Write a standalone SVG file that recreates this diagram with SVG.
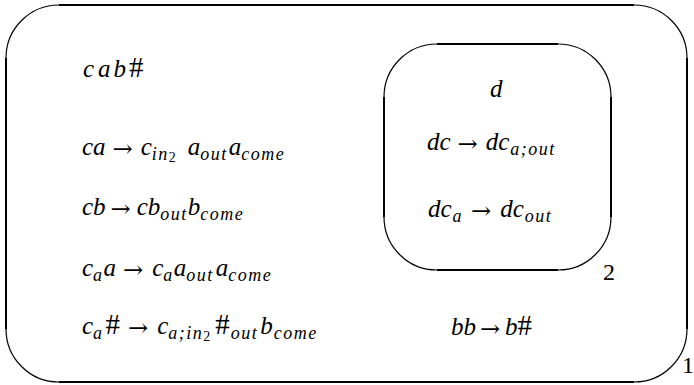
<svg xmlns="http://www.w3.org/2000/svg" width="694" height="385" viewBox="0 0 694 385">
  <style>
    .edge { fill: none; stroke: #000; stroke-width: 2; stroke-linecap: butt; }
    .arc { fill: none; stroke: #000; stroke-width: 1.2; }
    .sub { font-size: 18px; letter-spacing: 1.5px; }
    .ss { font-size: 14px; font-style: normal; letter-spacing: 0; }
    .hash { font-style: normal; font-size: 29px; }
    .ar { font-style: normal; font-size: 24px; }
  </style>
  <rect width="694" height="385" fill="#fff"/>

  <!-- outer membrane (1) -->
  <g id="membrane-1">
    <path class="edge" d="M59 5 H634 M687 58 V329 M634 382 H59 M6 329 V58"/>
    <path class="arc" d="M634 5 A53 53 0 0 1 687 58 M687 329 A53 53 0 0 1 634 382 M59 382 A53 53 0 0 1 6 329 M6 58 A53 53 0 0 1 59 5"/>
    <text x="682" y="373" font-family="'Liberation Serif', 'Times New Roman', serif" font-size="24">1</text>
  </g>

  <!-- inner membrane (2) -->
  <g id="membrane-2">
    <path class="edge" d="M437 44 H558 M611 97 V217 M558 270 H437 M384 217 V97"/>
    <path class="arc" d="M558 44 A53 53 0 0 1 611 97 M611 217 A53 53 0 0 1 558 270 M437 270 A53 53 0 0 1 384 217 M384 97 A53 53 0 0 1 437 44"/>
    <text x="603" y="280" font-family="'Liberation Serif', 'Times New Roman', serif" font-size="24">2</text>
  </g>

  <g id="connectors"/>

  <!-- objects and rules of region 1 -->
  <g id="region-1-rules" font-family="'Liberation Serif', 'Times New Roman', serif" font-style="italic" font-size="25" fill="#000">
    <text x="83" y="77">c<tspan dx="4">a</tspan><tspan dx="3">b</tspan><tspan class="hash" dx="3">#</tspan></text>
    <text x="82" y="155">ca<tspan class="ar" font-family="'DejaVu Serif', serif" dx="7" dy="2">→</tspan><tspan dx="8" dy="-2">c</tspan><tspan class="sub" dy="5">in</tspan><tspan class="ss" dy="2">2</tspan><tspan dy="-7" dx="12">a</tspan><tspan class="sub" dy="5">out</tspan><tspan dy="-5" dx="1">a</tspan><tspan class="sub" dy="5">come</tspan></text>
    <text x="82" y="215">cb<tspan class="ar" font-family="'DejaVu Serif', serif" dx="5" dy="2">→</tspan><tspan dx="6" dy="-2">cb</tspan><tspan class="sub" dy="5">out</tspan><tspan dy="-5">b</tspan><tspan class="sub" dy="5">come</tspan></text>
    <text x="82" y="276">c<tspan class="sub" dy="5">a</tspan><tspan dy="-5">a</tspan><tspan class="ar" font-family="'DejaVu Serif', serif" dx="7" dy="2">→</tspan><tspan dx="9" dy="-2">c</tspan><tspan class="sub" dy="5">a</tspan><tspan dy="-5">a</tspan><tspan class="sub" dy="5">out</tspan><tspan dy="-5" dx="2">a</tspan><tspan class="sub" dy="5">come</tspan></text>
    <text x="82" y="334">c<tspan class="sub" dy="5">a</tspan><tspan class="hash" dy="-5" dx="2">#</tspan><tspan class="ar" font-family="'DejaVu Serif', serif" dx="8" dy="2">→</tspan><tspan dx="9" dy="-2">c</tspan><tspan class="sub" dy="5">a;in</tspan><tspan class="ss" dy="2">2</tspan><tspan class="hash" dy="-7" dx="5">#</tspan><tspan class="sub" dx="1" dy="5">out</tspan><tspan dy="-5" dx="2">b</tspan><tspan class="sub" dx="1" dy="5">come</tspan></text>
    <text x="451" y="335">bb<tspan class="ar" font-family="'DejaVu Serif', serif" dx="4" dy="2">→</tspan><tspan dx="5" dy="-2">b</tspan><tspan class="hash">#</tspan></text>
  </g>

  <!-- objects and rules of region 2 -->
  <g id="region-2-rules" font-family="'Liberation Serif', 'Times New Roman', serif" font-style="italic" font-size="25" fill="#000">
    <text x="490" y="97">d</text>
    <text x="427" y="150">dc<tspan class="ar" font-family="'DejaVu Serif', serif" dx="7" dy="2">→</tspan><tspan dx="8" dy="-2">dc</tspan><tspan class="sub" dx="1" dy="5">a;out</tspan></text>
    <text x="428" y="217">dc<tspan class="sub" dx="1" dy="5">a</tspan><tspan class="ar" font-family="'DejaVu Serif', serif" dx="8" dy="-3">→</tspan><tspan dx="9" dy="-2">dc</tspan><tspan class="sub" dx="1" dy="5">out</tspan></text>
  </g>
</svg>
